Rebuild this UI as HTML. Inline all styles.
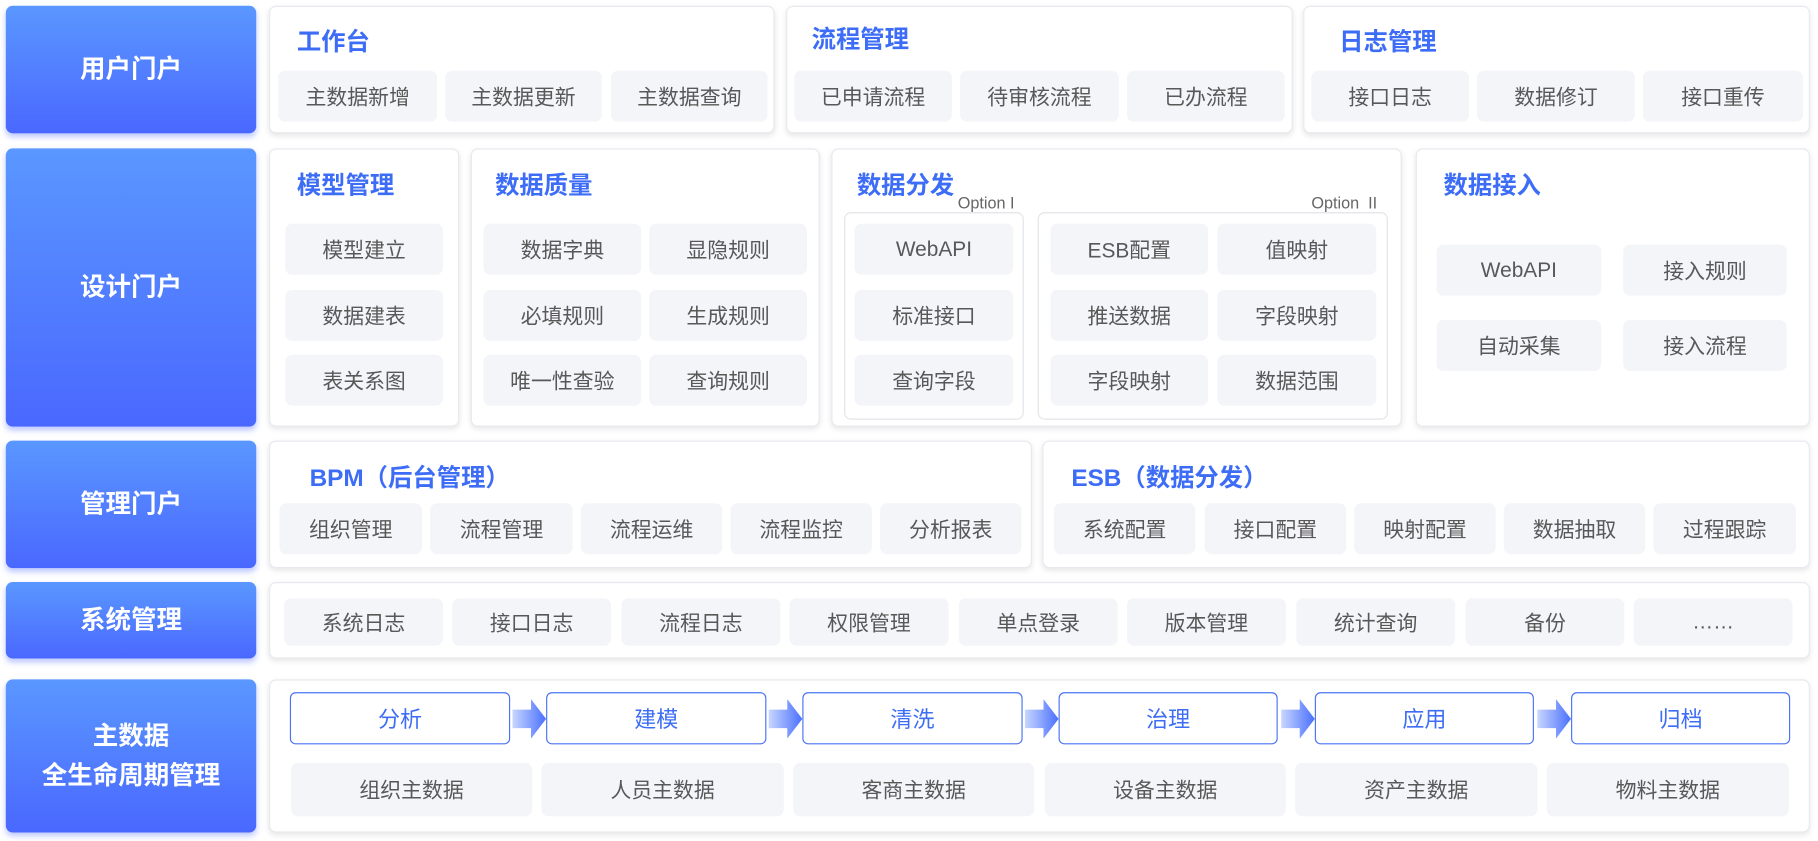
<!DOCTYPE html>
<html><head><meta charset="utf-8"><style>
*{margin:0;padding:0;box-sizing:border-box}
html,body{width:1818px;height:841px;overflow:hidden;background:#fff}
#w{position:absolute;left:0;top:0;width:1568px;height:725px;transform:scale(1.15944);transform-origin:0 0;font-family:"Liberation Sans","Noto Sans CJK SC",sans-serif}
#w div{position:absolute}
.L{background:linear-gradient(#5a97ff,#4a68ff);border-radius:6px;color:#fff;font-weight:bold;font-size:22px;display:flex;align-items:center;justify-content:center;text-align:center;line-height:34px;box-shadow:0 3px 5px rgba(70,100,255,.35)}
.C{background:#fff;border:1px solid #e8e9ee;border-radius:6px;box-shadow:0 2px 5px rgba(0,0,0,.1)}
.T{color:#3d6df6;font-size:21px;font-weight:bold;white-space:nowrap}
.I{background:#f4f5f9;border-radius:6px;color:#585858;font-size:18px;display:flex;align-items:center;justify-content:center;white-space:nowrap}
.O{border:1px solid #e3e4e8;border-radius:6px}
.S{color:#666;font-size:14px}
.F{border:1.5px solid #4a74f5;border-radius:5px;color:#3d6df6;font-size:19px;display:flex;align-items:center;justify-content:center;background:#fff}
.A{width:30px;height:30px}
</style></head><body><div id="w">
<div class="L" style="left:5px;top:5px;width:216px;height:110px">用户门户</div>
<div class="L" style="left:5px;top:128px;width:216px;height:240px">设计门户</div>
<div class="L" style="left:5px;top:380px;width:216px;height:110px">管理门户</div>
<div class="L" style="left:5px;top:502px;width:216px;height:66px">系统管理</div>
<div class="L" style="left:5px;top:586px;width:216px;height:132px">主数据<br>全生命周期管理</div>

<div class="C" style="left:232px;top:5px;width:436px;height:110px"></div>
<div class="C" style="left:678px;top:5px;width:437px;height:110px"></div>
<div class="C" style="left:1124px;top:5px;width:437px;height:110px"></div>
<div class="T" style="left:256px;top:20px">工作台</div>
<div class="T" style="left:700px;top:18px">流程管理</div>
<div class="T" style="left:1155px;top:20px">日志管理</div>
<div class="I" style="left:240px;top:61px;width:137px;height:44px">主数据新增</div>
<div class="I" style="left:384px;top:61px;width:135px;height:44px">主数据更新</div>
<div class="I" style="left:527px;top:61px;width:135px;height:44px">主数据查询</div>
<div class="I" style="left:685px;top:61px;width:136px;height:44px">已申请流程</div>
<div class="I" style="left:828px;top:61px;width:137px;height:44px">待审核流程</div>
<div class="I" style="left:972px;top:61px;width:136px;height:44px">已办流程</div>
<div class="I" style="left:1131px;top:61px;width:136px;height:44px">接口日志</div>
<div class="I" style="left:1274px;top:61px;width:136px;height:44px">数据修订</div>
<div class="I" style="left:1417px;top:61px;width:138px;height:44px">接口重传</div>

<div class="C" style="left:232px;top:128px;width:164px;height:240px"></div>
<div class="C" style="left:406px;top:128px;width:301px;height:240px"></div>
<div class="C" style="left:717px;top:128px;width:492px;height:240px"></div>
<div class="C" style="left:1221px;top:128px;width:340px;height:240px"></div>
<div class="T" style="left:256px;top:144px">模型管理</div>
<div class="T" style="left:427px;top:144px">数据质量</div>
<div class="T" style="left:739px;top:144px">数据分发</div>
<div class="T" style="left:1245px;top:144px">数据接入</div>
<div class="I" style="left:246px;top:193px;width:136px;height:44px">模型建立</div>
<div class="I" style="left:246px;top:250px;width:136px;height:44px">数据建表</div>
<div class="I" style="left:246px;top:306px;width:136px;height:44px">表关系图</div>
<div class="I" style="left:417px;top:193px;width:136px;height:44px">数据字典</div>
<div class="I" style="left:560px;top:193px;width:136px;height:44px">显隐规则</div>
<div class="I" style="left:417px;top:250px;width:136px;height:44px">必填规则</div>
<div class="I" style="left:560px;top:250px;width:136px;height:44px">生成规则</div>
<div class="I" style="left:417px;top:306px;width:136px;height:44px">唯一性查验</div>
<div class="I" style="left:560px;top:306px;width:136px;height:44px">查询规则</div>
<div class="O" style="left:728px;top:183px;width:155px;height:179px"></div>
<div class="O" style="left:895px;top:183px;width:302px;height:179px"></div>
<div class="S" style="left:826px;top:167px">Option I</div>
<div class="S" style="left:1131px;top:167px">Option&nbsp; II</div>
<div class="I" style="left:737px;top:193px;width:137px;height:44px">WebAPI</div>
<div class="I" style="left:737px;top:250px;width:137px;height:44px">标准接口</div>
<div class="I" style="left:737px;top:306px;width:137px;height:44px">查询字段</div>
<div class="I" style="left:906px;top:193px;width:136px;height:44px">ESB配置</div>
<div class="I" style="left:1050px;top:193px;width:137px;height:44px">值映射</div>
<div class="I" style="left:906px;top:250px;width:136px;height:44px">推送数据</div>
<div class="I" style="left:1050px;top:250px;width:137px;height:44px">字段映射</div>
<div class="I" style="left:906px;top:306px;width:136px;height:44px">字段映射</div>
<div class="I" style="left:1050px;top:306px;width:137px;height:44px">数据范围</div>
<div class="I" style="left:1239px;top:211px;width:142px;height:44px">WebAPI</div>
<div class="I" style="left:1400px;top:211px;width:141px;height:44px">接入规则</div>
<div class="I" style="left:1239px;top:276px;width:142px;height:44px">自动采集</div>
<div class="I" style="left:1400px;top:276px;width:141px;height:44px">接入流程</div>

<div class="C" style="left:232px;top:380px;width:658px;height:110px"></div>
<div class="C" style="left:899px;top:380px;width:662px;height:110px"></div>
<div class="T" style="left:267px;top:396px">BPM（后台管理）</div>
<div class="T" style="left:924px;top:396px">ESB（数据分发）</div>
<div class="I" style="left:241px;top:434px;width:123px;height:44px">组织管理</div>
<div class="I" style="left:371px;top:434px;width:123px;height:44px">流程管理</div>
<div class="I" style="left:501px;top:434px;width:122px;height:44px">流程运维</div>
<div class="I" style="left:630px;top:434px;width:122px;height:44px">流程监控</div>
<div class="I" style="left:759px;top:434px;width:122px;height:44px">分析报表</div>
<div class="I" style="left:909px;top:434px;width:122px;height:44px">系统配置</div>
<div class="I" style="left:1039px;top:434px;width:122px;height:44px">接口配置</div>
<div class="I" style="left:1168px;top:434px;width:122px;height:44px">映射配置</div>
<div class="I" style="left:1297px;top:434px;width:122px;height:44px">数据抽取</div>
<div class="I" style="left:1426px;top:434px;width:123px;height:44px">过程跟踪</div>

<div class="C" style="left:232px;top:502px;width:1329px;height:66px"></div>
<div class="I" style="left:245px;top:516px;width:137px;height:41px">系统日志</div>
<div class="I" style="left:390px;top:516px;width:137px;height:41px">接口日志</div>
<div class="I" style="left:536px;top:516px;width:137px;height:41px">流程日志</div>
<div class="I" style="left:681px;top:516px;width:137px;height:41px">权限管理</div>
<div class="I" style="left:827px;top:516px;width:137px;height:41px">单点登录</div>
<div class="I" style="left:972px;top:516px;width:137px;height:41px">版本管理</div>
<div class="I" style="left:1118px;top:516px;width:137px;height:41px">统计查询</div>
<div class="I" style="left:1264px;top:516px;width:137px;height:41px">备份</div>
<div class="I" style="left:1409px;top:516px;width:137px;height:41px">……</div>

<div class="C" style="left:232px;top:586px;width:1329px;height:132px"></div>
<div class="F" style="left:250px;top:597px;width:190px;height:45px">分析</div>
<div class="F" style="left:471px;top:597px;width:190px;height:45px">建模</div>
<div class="F" style="left:692px;top:597px;width:190px;height:45px">清洗</div>
<div class="F" style="left:913px;top:597px;width:189px;height:45px">治理</div>
<div class="F" style="left:1134px;top:597px;width:189px;height:45px">应用</div>
<div class="F" style="left:1355px;top:597px;width:189px;height:45px">归档</div>
<svg style="position:absolute;left:0;top:0" width="1568" height="725">
<defs><linearGradient id="g" x1="0" x2="1"><stop offset="0" stop-color="#c8d6ff"/><stop offset="1" stop-color="#4a70ff"/></linearGradient></defs>
<g fill="url(#g)">
<path d="M442 612h16v-9l13 17-13 17v-9h-16z"/>
<path d="M663 612h16v-9l13 17-13 17v-9h-16z"/>
<path d="M884 612h16v-9l13 17-13 17v-9h-16z"/>
<path d="M1105 612h16v-9l13 17-13 17v-9h-16z"/>
<path d="M1326 612h16v-9l13 17-13 17v-9h-16z"/>
</g></svg>
<div class="I" style="left:251px;top:658px;width:208px;height:46px">组织主数据</div>
<div class="I" style="left:467px;top:658px;width:209px;height:46px">人员主数据</div>
<div class="I" style="left:684px;top:658px;width:208px;height:46px">客商主数据</div>
<div class="I" style="left:901px;top:658px;width:208px;height:46px">设备主数据</div>
<div class="I" style="left:1117px;top:658px;width:209px;height:46px">资产主数据</div>
<div class="I" style="left:1334px;top:658px;width:209px;height:46px">物料主数据</div>
</div></body></html>
